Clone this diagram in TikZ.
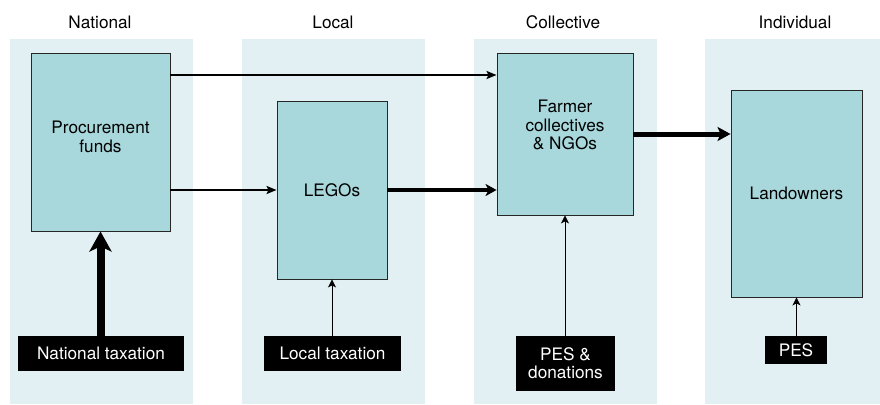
\documentclass[tikz,border=0pt]{standalone}
\usepackage{fontspec}
\setmainfont{TeX Gyre Heros}
\usetikzlibrary{arrows.meta}
\definecolor{panelbg}{HTML}{E2F0F4}
\definecolor{boxfill}{HTML}{A8D8DC}

\begin{document}
\begin{tikzpicture}[
    x=1pt, y=-1pt,
    every node/.style={font=\fontsize{17.2}{18.3}\selectfont},
    panel/.style={fill=panelbg, draw=none},
    actor/.style={draw=black!85, fill=boxfill, line width=0.9pt, align=center, inner sep=0pt},
    source/.style={fill=black, text=white, align=center, inner sep=0pt},
    flow/.style={line width=2pt, -{Stealth[length=10pt, width=8pt, inset=2pt]}},
    thin/.style={line width=1pt, -{Stealth[length=8pt, width=8pt, inset=2pt]}}
]
\useasboundingbox (0,0) rectangle (880,404);

% Level panels
\fill[panel] (10,39) rectangle (193,404);
\fill[panel] (242,39) rectangle (425,404);
\fill[panel] (474,39) rectangle (657,404);
\fill[panel] (705,39) rectangle (888,404);

% Level headings
\node (hnat) at (100,22) {National};
\node (hloc) at (333,22) {Local};
\node (hcol) at (563,22) {Collective};
\node (hind) at (795,22) {Individual};

% Actors
\node[actor, minimum width=139, minimum height=178] (proc) at (100.5,142) {Procurement\\funds\\[-8pt]};
\node[actor, minimum width=110, minimum height=178] (legos) at (332,190) {LEGOs};
\node[actor, minimum width=136, minimum height=162] (farmer) at (565,134) {Farmer\\collectives\\\& NGOs\\[0pt]};
\node[actor, minimum width=131, minimum height=207] (land) at (796.5,193.5) {Landowners};

% Funding sources
\node[source, minimum width=166, minimum height=35] (nattax) at (101,353.5) {National taxation};
\node[source, minimum width=137, minimum height=35] (loctax) at (332.5,353.5) {Local taxation};
\node[source, minimum width=99, minimum height=55] (pesdon) at (565.5,363.5) {PES \&\\donations};
\node[source, minimum width=62, minimum height=28] (pes) at (796,350) {PES};

% Money flows
\draw[flow] (proc.east |- 0,75) -- (farmer.west |- 0,75);
\draw[flow] (proc.east |- legos) -- (legos.west);
\draw[flow, line width=4pt, -{Stealth[length=11pt, width=12pt, inset=3pt]}] (legos.east) -- (farmer.west |- legos);
\draw[flow, line width=5pt, -{Stealth[length=13pt, width=14pt, inset=3pt]}] (farmer.east) -- (land.west |- farmer);
\draw[flow, line width=8pt, -{Stealth[length=20pt, width=22pt, inset=5pt]}] (nattax.north -| proc) -- (proc.south);
\draw[thin] (loctax.north -| legos) -- (legos.south);
\draw[thin] (pesdon.north -| farmer) -- (farmer.south);
\draw[thin] (pes.north -| land) -- (land.south);
\end{tikzpicture}
\end{document}
